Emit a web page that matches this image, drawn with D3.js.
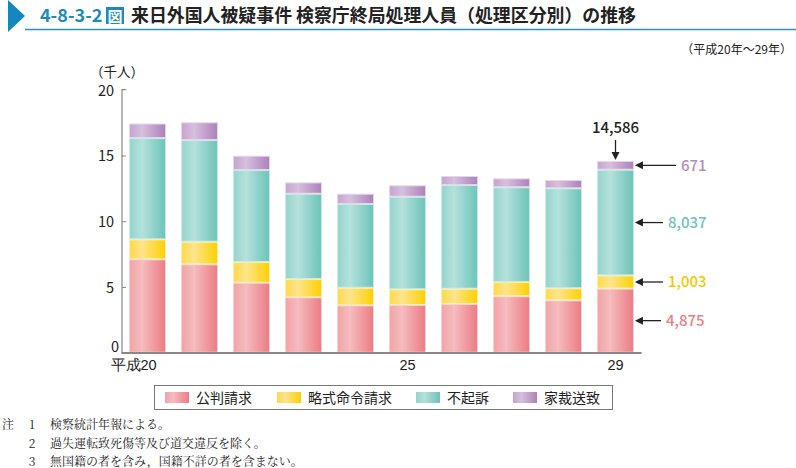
<!DOCTYPE html>
<html><head><meta charset="utf-8">
<script src="https://cdn.jsdelivr.net/npm/d3@7"></script>
<style>
body{margin:0;background:#fff;}
svg{display:block;font-family:"Noto Sans CJK JP","Noto Sans",sans-serif;}
</style></head>
<body><svg id="c" width="796" height="468"></svg>
<script>
const years = ["平成20","21","22","23","24","25","26","27","28","29"];
const tickYears = {"平成20":"平成20","25":"25","29":"29"};
const seriesNames = ["公判請求","略式命令請求","不起訴","家裁送致"];
const kohan   = [7.10, 6.72, 5.32, 4.21, 3.60, 3.63, 3.70, 4.29, 3.98, 4.875];
const ryakushiki = [1.52, 1.72, 1.58, 1.39, 1.34, 1.19, 1.17, 1.09, 0.92, 1.003];
const fukiso  = [7.70, 7.73, 6.99, 6.49, 6.37, 7.04, 7.88, 7.20, 7.60, 8.037];
const kasai   = [1.11, 1.35, 1.09, 0.86, 0.78, 0.87, 0.69, 0.68, 0.63, 0.671];
const yTicks = [0,5,10,15,20];
const lastLabels = ["4,875","1,003","8,037","671"];
const totalLabel = "14,586";
const notes = ["検察統計年報による。","過失運転致死傷等及び道交違反を除く。","無国籍の者を含み，国籍不詳の者を含まない。"];

const colors = [
  {l:"#f2a3a7", m:"#f5bcbe", r:"#ec7b84", s:"#f8d0d2", t:"#ee7f88"},
  {l:"#fdd94a", m:"#fee48c", r:"#fdd000", s:"#fdeeb0", t:"#f7c800"},
  {l:"#95d4cc", m:"#b5e1dc", r:"#6bc3b8", s:"#c8ebe6", t:"#6cc5bb"},
  {l:"#c6a3cf", m:"#d7bfdd", r:"#ad80ba", s:"#e6d6ea", t:"#b48bc2"}
];

const svg = d3.select("#c");
const defs = svg.append("defs");
colors.forEach((c,i)=>{
  const g = defs.append("linearGradient").attr("id","g"+i).attr("x1","0").attr("x2","1").attr("y1","0").attr("y2","0");
  g.append("stop").attr("offset","0").attr("stop-color",c.l);
  g.append("stop").attr("offset","0.35").attr("stop-color",c.m);
  g.append("stop").attr("offset","1").attr("stop-color",c.r);
});

// Header
svg.append("path").attr("d","M8,0 L25,16 L8,32 Z").attr("fill","#1487c0");
svg.append("line").attr("x1",25).attr("x2",796).attr("y1",29.5).attr("y2",29.5).attr("stroke","#2a8fc4").attr("stroke-width",1.5);
svg.append("text").attr("x",40).attr("y",22).attr("font-size",18).attr("font-weight","bold").attr("fill","#1a8ac2").text("4-8-3-2");
svg.append("rect").attr("x",106).attr("y",7).attr("width",18).attr("height",17).attr("fill","#1a8ac2");
svg.append("text").attr("x",115).attr("y",21.5).attr("text-anchor","middle").attr("font-size",15).attr("font-weight","bold").attr("fill","#fff").text("図");
svg.append("text").attr("x",131).attr("y",22).attr("font-size",17.9).attr("font-weight","bold").attr("fill","#222").text("来日外国人被疑事件 検察庁終局処理人員（処理区分別）の推移");
svg.append("text").attr("x",792).attr("y",54).attr("text-anchor","end").attr("font-size",12).attr("fill","#222").text("（平成20年～29年）");

const x = d3.scaleBand().domain(years).range([121.5,641.5]).paddingInner(0.29).paddingOuter(0.145);
const y = d3.scaleLinear().domain([0,20]).range([352.7,89.7]);

const data = years.map((yr,i)=>({year:yr, v:[kohan[i],ryakushiki[i],fukiso[i],kasai[i]]}));
const stack = d3.stack().keys([0,1,2,3]).value((d,k)=>d.v[k]);
const stacked = stack(data);

const gBars = svg.append("g");
stacked.forEach((layer,k)=>{
  gBars.selectAll(null).data(layer).enter().append("rect")
    .attr("x",d=>x(d.data.year)+0.5)
    .attr("width",x.bandwidth()-1)
    .attr("y",d=>y(d[1])+0.5)
    .attr("height",d=>Math.max(0,y(d[0])-y(d[1])-1))
    .attr("fill","url(#g"+k+")")
    .attr("stroke",colors[k].s).attr("stroke-width",1);
});

// Axes
const yAxis = d3.axisLeft(y).tickValues(yTicks).tickSize(-4).tickPadding(8);
const gy = svg.append("g").attr("transform","translate(122,0)").call(yAxis);
gy.select(".domain").attr("stroke","#888").attr("stroke-width",1.2).attr("d","M0,"+y(0)+"V"+y(20)+"H4");
gy.selectAll(".tick line").attr("stroke","#888");
gy.selectAll(".tick").filter(d=>d===20).select("line").remove();
gy.selectAll(".tick text").attr("font-size",14.5).attr("fill","#222").attr("font-family","'Noto Sans CJK JP',sans-serif")
  .attr("dy","0.35em");
gy.selectAll(".tick").filter(d=>d===20).select("text").attr("dy","0.42em");
gy.selectAll(".tick").filter(d=>d===0).select("text").attr("dy","-0.05em").attr("x",-3);

const xAxis = d3.axisBottom(x).tickValues(Object.keys(tickYears)).tickSize(0).tickPadding(6).tickFormat(d=>tickYears[d]);
const gx = svg.append("g").attr("transform","translate(0,353)").call(xAxis);
gx.select(".domain").attr("stroke","#888").attr("stroke-width",2).attr("d","M121.5,0H641.5");
gx.selectAll(".tick text").attr("font-size",14.5).attr("fill","#222").attr("dy","0.75em");
gx.selectAll(".tick").filter(d=>d==="平成20").select("text").attr("text-anchor","start").attr("x",-37);

svg.append("text").attr("x",90).attr("y",77).attr("font-size",13.5).attr("fill","#222").text("（千人）");

// Annotations for last bar
const last = stacked.map(l=>l[l.length-1]);
const lx = x(years[years.length-1]) + x.bandwidth();
const labelStart = [666,668,668,681];
last.forEach((d,k)=>{
  const my = (y(d[0])+y(d[1]))/2;
  const x2 = labelStart[k]-5;
  svg.append("line").attr("x1",lx+7).attr("x2",x2).attr("y1",my).attr("y2",my).attr("stroke","#222").attr("stroke-width",1.3);
  svg.append("path").attr("d",`M${lx+1},${my} L${lx+9},${my-4} L${lx+9},${my+4} Z`).attr("fill","#222");
  svg.append("text").attr("x",labelStart[k]).attr("y",my).attr("dy","0.36em").attr("font-size",15).attr("font-weight","500").attr("fill",colors[k].t).text(lastLabels[k]);
});
const cx = x(years[years.length-1]) + x.bandwidth()/2;
const topY = y(last[3][1]);
svg.append("text").attr("x",cx).attr("y",133).attr("text-anchor","middle").attr("font-size",15).attr("font-weight","500").attr("fill","#222").text(totalLabel);
svg.append("line").attr("x1",cx).attr("x2",cx).attr("y1",140).attr("y2",topY-8).attr("stroke","#222").attr("stroke-width",1.3);
svg.append("path").attr("d",`M${cx},${topY-1} L${cx-4},${topY-9} L${cx+4},${topY-9} Z`).attr("fill","#222");

// Legend
const lg = svg.append("g");
lg.append("rect").attr("x",154.5).attr("y",385.5).attr("width",458).attr("height",24).attr("fill","#fff").attr("stroke","#777").attr("stroke-width",1);
const legX = [165,277,416,513];
seriesNames.forEach((n,k)=>{
  lg.append("rect").attr("x",legX[k]).attr("y",392).attr("width",24).attr("height",11).attr("fill","url(#g"+k+")");
  lg.append("text").attr("x",legX[k]+31).attr("y",398).attr("dy","0.36em").attr("font-size",14).attr("fill","#222").text(n);
});

// Notes
const nf = "'Noto Serif CJK JP','Noto Sans CJK JP',serif";
svg.append("text").attr("x",2).attr("y",425).attr("dy","0.36em").attr("font-size",12).attr("font-family",nf).attr("fill","#222").text("注");
notes.forEach((t,i)=>{
  const yy = 425 + i*18.5;
  svg.append("text").attr("x",32).attr("y",yy).attr("dy","0.36em").attr("text-anchor","middle").attr("font-size",12).attr("font-family",nf).attr("fill","#222").text(String(i+1));
  svg.append("text").attr("x",50).attr("y",yy).attr("dy","0.36em").attr("font-size",12).attr("font-family",nf).attr("fill","#222").text(t);
});
</script></body></html>
